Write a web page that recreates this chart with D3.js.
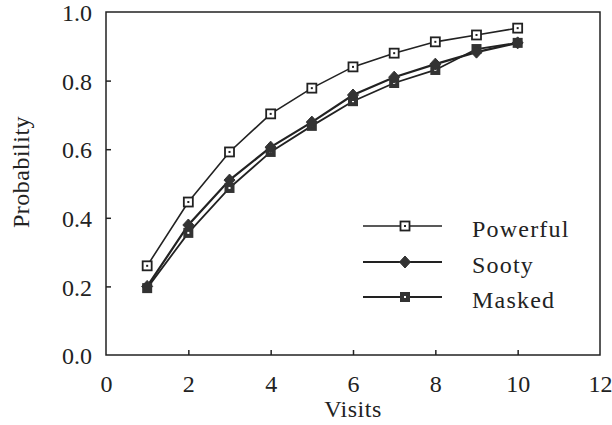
<!DOCTYPE html>
<html>
<head>
<meta charset="utf-8">
<script src="https://cdn.jsdelivr.net/npm/d3@7"></script>
<style>
  html, body { margin: 0; padding: 0; background: #fff; }
  svg { display: block; }
  text { font-family: "Liberation Serif", "Times New Roman", serif; fill: #222; }
</style>
</head>
<body>
<svg id="chart" width="612" height="425"></svg>
<script>
const visits = [1, 2, 3, 4, 5, 6, 7, 8, 9, 10];
const powerful = [0.26, 0.446, 0.592, 0.703, 0.778, 0.84, 0.88, 0.913, 0.933, 0.953];
const sooty = [0.20, 0.379, 0.51, 0.606, 0.679, 0.758, 0.81, 0.848, 0.883, 0.91];
const masked = [0.195, 0.356, 0.487, 0.592, 0.668, 0.74, 0.793, 0.831, 0.892, 0.91];
const seriesNames = ["Powerful", "Sooty", "Masked"];
const xTicks = [0, 2, 4, 6, 8, 10, 12];
const yTicks = [0.0, 0.2, 0.4, 0.6, 0.8, 1.0];
const xLabel = "Visits";
const yLabel = "Probability";

const svg = d3.select("#chart");
const L = 106, R = 600, T = 12, B = 355;
const x = d3.scaleLinear().domain([0, 12]).range([L, R]);
const y = d3.scaleLinear().domain([0, 1]).range([B, T]);
const ink = "#222";

// frame
svg.append("rect").attr("x", L).attr("y", T).attr("width", R - L).attr("height", B - T)
  .attr("fill", "none").attr("stroke", ink).attr("stroke-width", 1.5);

// axes
const yAxis = d3.axisLeft(y).tickValues(yTicks).tickFormat(d3.format(".1f"))
  .tickSizeInner(-5).tickSizeOuter(0).tickPadding(14);
const gy = svg.append("g").attr("transform", `translate(${L},0)`).call(yAxis);
gy.select(".domain").remove();
gy.selectAll(".tick line").attr("stroke", ink).attr("stroke-width", 1.5);
gy.selectAll(".tick text").attr("font-size", 24).attr("fill", ink)
  .attr("font-family", "Liberation Serif").attr("dy", "0.36em");

const xAxis = d3.axisBottom(x).tickValues(xTicks).tickFormat(d3.format("d"))
  .tickSizeInner(-5).tickSizeOuter(0).tickPadding(20);
const gx = svg.append("g").attr("transform", `translate(0,${B})`).call(xAxis);
gx.select(".domain").remove();
gx.selectAll(".tick line").attr("stroke", ink).attr("stroke-width", 1.5);
gx.selectAll(".tick text").attr("font-size", 24).attr("fill", ink)
  .attr("font-family", "Liberation Serif").attr("dy", "0.71em");
gx.selectAll(".tick").filter(d => d === 0 || d === 12).select("line").remove();
gy.selectAll(".tick").filter(d => d === 0 || d === 1).select("line").remove();

// axis titles
svg.append("text").attr("x", 353).attr("y", 417).attr("text-anchor", "middle")
  .attr("font-size", 24).attr("letter-spacing", 0.5).text(xLabel);
svg.append("text").attr("transform", "translate(29,172) rotate(-90)")
  .attr("text-anchor", "middle").attr("font-size", 24).attr("letter-spacing", 0.5).text(yLabel);

// markers
function drawMarker(g, kind, cx, cy) {
  if (kind === "Powerful") {
    g.append("rect").attr("x", cx - 4.5).attr("y", cy - 4.5).attr("width", 9).attr("height", 9)
      .attr("fill", "#fff").attr("stroke", ink).attr("stroke-width", 1.8);
    g.append("rect").attr("x", cx - 1).attr("y", cy - 1).attr("width", 2).attr("height", 2).attr("fill", ink);
  } else if (kind === "Sooty") {
    g.append("path").attr("d", `M${cx},${cy - 6}L${cx + 5.5},${cy}L${cx},${cy + 6}L${cx - 5.5},${cy}Z`)
      .attr("fill", "#333").attr("stroke", "#333").attr("stroke-width", 1);
  } else {
    g.append("rect").attr("x", cx - 5).attr("y", cy - 5).attr("width", 10).attr("height", 10)
      .attr("fill", "#333");
    g.append("rect").attr("x", cx - 1).attr("y", cy - 1).attr("width", 2).attr("height", 2).attr("fill", "#fff");
  }
}

const seriesData = [powerful, sooty, masked];
const widths = [1.6, 2.2, 1.8];
const line = d3.line().x((d, i) => x(visits[i])).y(d => y(d));

const order = [2, 1, 0];
order.forEach(s => {
  svg.append("path").datum(seriesData[s]).attr("d", line)
    .attr("fill", "none").attr("stroke", ink).attr("stroke-width", widths[s]);
});
order.forEach(s => {
  const g = svg.append("g");
  seriesData[s].forEach((v, i) => drawMarker(g, seriesNames[s], x(visits[i]), y(v)));
});

// legend
const legY = [226, 262, 297];
seriesNames.forEach((name, i) => {
  const g = svg.append("g");
  g.append("line").attr("x1", 363).attr("x2", 442).attr("y1", legY[i]).attr("y2", legY[i])
    .attr("stroke", ink).attr("stroke-width", widths[i]);
  drawMarker(g, name, 405, legY[i]);
  g.append("text").attr("x", 472).attr("y", legY[i] + 11).attr("font-size", 24)
    .attr("letter-spacing", 1.2).text(name);
});
</script>
</body>
</html>
